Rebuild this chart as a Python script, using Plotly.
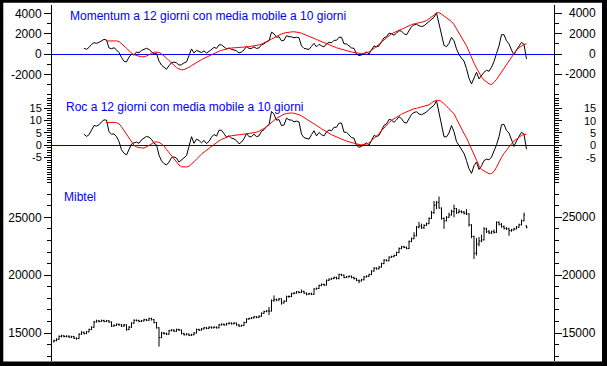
import plotly.graph_objects as go

# ---------------- data ----------------
periods = list(range(190))

opens = [14250, 14340, 14450, 14700, 14750, 14700, 14720, 14650, 14680, 14550,
         14520, 14900, 15050, 14950, 15100, 15300, 15500, 15950, 16050, 16000,
         16080, 16000, 16050, 15950, 15600, 15650, 15750, 15700, 15600, 15700,
         15300, 15500, 15850, 16100, 16080, 16000, 16050, 16150, 16100, 16250,
         16150, 15900, 15450, 14600, 15000, 14950, 14900, 15200, 15250, 15150,
         15300, 15250, 14950, 14850, 14900, 14800, 14850, 15000, 15300, 15250,
         15350, 15450, 15400, 15500, 15450, 15500, 15450, 15700, 15750, 15700,
         15800, 15850, 15800, 15850, 15700, 15600, 15650, 15900, 16200, 16250,
         16300, 16400, 16350, 16450, 16700, 16850, 16900, 16900, 17800, 17900,
         17850, 17950, 17600, 17750, 18150, 18150, 18400, 18450, 18550, 18500,
         18600, 18450, 18350, 18400, 18350, 18800, 18850, 19100, 19200, 19150,
         19550, 19650, 19700, 19800, 19700, 20050, 20000, 19800, 19850, 19900,
         19800, 19700, 19550, 19500, 19600, 19850, 19900, 20050, 20350, 20600,
         20550, 20700, 21000, 21300, 21250, 21550, 21600, 21700, 21950, 22300,
         22450, 22400, 22300, 22900, 23150, 23400, 24150, 24250, 24100, 24300,
         24450, 24900, 25400, 26050, 26300, 25800, 24900, 24700, 25000, 25200,
         25500, 25750, 25400, 25500, 25450, 25350, 25300, 24350, 23350, 21900,
         22700, 22950, 23050, 24000, 23750, 23650, 23750, 23700, 24550, 24400,
         24200, 24050, 24000, 23850, 23900, 24000, 24150, 24350, 24700, 24250]

highs = [14420, 14550, 14800, 14850, 14820, 14800, 14800, 14760, 14750, 14620,
         14980, 15150, 15120, 15180, 15380, 15580, 16050, 16150, 16120, 16160,
         16150, 16130, 16120, 16000, 15750, 15830, 15820, 15780, 15780, 15750,
         15600, 15930, 16180, 16170, 16150, 16130, 16230, 16220, 16330, 16320,
         16200, 15950, 15500, 15100, 15080, 15030, 15280, 15330, 15320, 15380,
         15370, 15300, 15020, 14980, 14960, 14930, 15080, 15380, 15370, 15430,
         15530, 15520, 15580, 15570, 15580, 15570, 15780, 15830, 15820, 15880,
         15930, 15920, 15930, 15900, 15770, 15730, 15980, 16280, 16330, 16380,
         16480, 16470, 16530, 16780, 16930, 16980, 17250, 17900, 18250, 17980,
         18030, 18000, 17830, 18230, 18250, 18480, 18530, 18630, 18620, 18750,
         18650, 18500, 18480, 18480, 18880, 18930, 19180, 19280, 19270, 19630,
         19730, 19780, 19880, 19870, 20130, 20120, 20050, 19930, 19980, 19970,
         19870, 19770, 19620, 19680, 19930, 19980, 20130, 20430, 20680, 20670,
         20780, 21080, 21380, 21370, 21630, 21680, 21780, 22030, 22400, 22530,
         22530, 22470, 23000, 23250, 23700, 24250, 24600, 24450, 24400, 24550,
         25000, 25550, 26400, 26400, 26800, 25850, 25000, 25100, 25400, 25650,
         26100, 25800, 25700, 25600, 25550, 25700, 25350, 24400, 23400, 23200,
         23300, 23500, 24150, 24100, 23900, 23850, 23950, 24650, 24650, 24500,
         24300, 24150, 24100, 24000, 24100, 24250, 24450, 24800, 25400, 24300]

lows = [14200, 14280, 14400, 14620, 14620, 14630, 14580, 14580, 14480, 14420,
        14480, 14850, 14880, 14900, 15050, 15250, 15450, 15900, 15920, 15950,
        15930, 15950, 15880, 15520, 15550, 15600, 15620, 15520, 15530, 15200,
        15250, 15450, 15800, 16000, 15930, 15950, 16000, 16030, 16050, 16080,
        15830, 15380, 13820, 14550, 14870, 14830, 14850, 15150, 15080, 15100,
        15180, 14880, 14780, 14800, 14730, 14750, 14800, 14950, 15180, 15200,
        15300, 15330, 15350, 15380, 15400, 15380, 15400, 15650, 15630, 15650,
        15750, 15730, 15750, 15630, 15530, 15550, 15600, 15850, 16150, 16200,
        16250, 16280, 16300, 16400, 16650, 16800, 16550, 16850, 17700, 17750,
        17800, 17450, 17550, 17700, 18050, 18100, 18350, 18400, 18430, 18450,
        18380, 18250, 18300, 18280, 18300, 18750, 18800, 19050, 19080, 19100,
        19500, 19600, 19650, 19630, 19650, 19930, 19730, 19750, 19800, 19730,
        19630, 19480, 19300, 19450, 19550, 19800, 19850, 20000, 20300, 20480,
        20500, 20650, 20950, 21180, 21200, 21500, 21550, 21650, 21900, 22250,
        22330, 22230, 22250, 22850, 23100, 23350, 24050, 24000, 24000, 24250,
        24400, 24850, 25300, 25700, 25750, 24800, 24000, 24650, 24950, 25150,
        25000, 25300, 25350, 25350, 25250, 25200, 24200, 23200, 21400, 21700,
        22500, 22850, 23000, 23650, 23550, 23550, 23600, 23650, 24300, 24100,
        23950, 23900, 23400, 23750, 23850, 23950, 24100, 24300, 24650, 24050]

closes = [14340, 14450, 14700, 14750, 14700, 14720, 14650, 14680, 14550, 14520,
          14900, 15050, 14950, 15100, 15300, 15500, 15950, 16050, 16000, 16080,
          16000, 16050, 15950, 15600, 15650, 15750, 15700, 15600, 15700, 15300,
          15500, 15850, 16100, 16080, 16000, 16050, 16150, 16100, 16250, 16150,
          15900, 15450, 14600, 15000, 14950, 14900, 15200, 15250, 15150, 15300,
          15250, 14950, 14850, 14900, 14800, 14850, 15000, 15300, 15250, 15350,
          15450, 15400, 15500, 15450, 15500, 15450, 15700, 15750, 15700, 15800,
          15850, 15800, 15850, 15700, 15600, 15650, 15900, 16200, 16250, 16300,
          16400, 16350, 16450, 16700, 16850, 16900, 16900, 17800, 17900, 17850,
          17950, 17600, 17750, 18150, 18150, 18400, 18450, 18550, 18500, 18600,
          18450, 18350, 18400, 18350, 18800, 18850, 19100, 19200, 19150, 19550,
          19650, 19700, 19800, 19700, 20050, 20000, 19800, 19850, 19900, 19800,
          19700, 19550, 19500, 19600, 19850, 19900, 20050, 20350, 20600, 20550,
          20700, 21000, 21300, 21250, 21550, 21600, 21700, 21950, 22300, 22450,
          22400, 22300, 22900, 23150, 23400, 24150, 24250, 24100, 24300, 24450,
          24900, 25400, 26050, 26300, 25800, 24900, 24700, 25000, 25200, 25500,
          25750, 25400, 25500, 25450, 25350, 25300, 24350, 23350, 21900, 22700,
          22950, 23050, 24000, 23750, 23650, 23750, 23700, 24550, 24400, 24200,
          24050, 24000, 23850, 23900, 24000, 24150, 24350, 24700, 25200, 24150]

# Momentum a 12 giorni (periods 12..189)
mom_periods = list(range(12, 190))
momentum = [560, 460, 650, 950, 1110, 1050, 1150, 1300, 1440, 1380,
            600, 520, 620, 400, 150, -350, -720, -780, -300, -20,
            -100, 200, 120, 350, 450, 560, 450, 250, 0, 60,
            -700, -1100, -1300, -1500, -1150, -850, -800, -870, -1100, -1050,
            -880, -780, -150, 500, 100, 350, 250, 150, 300, 100,
            250, 500, 650, 550, 900, 900, 700, 500, 600, 450,
            400, 300, 100, 200, 400, 750, 550, 550, 700, 550,
            600, 900, 1000, 1200, 1300, 2150, 2000, 1650, 1700, 1300,
            1350, 1800, 1700, 1700, 1600, 1650, 1600, 800, 550, 500,
            450, 750, 1050, 700, 950, 800, 700, 1000, 1150, 1100,
            1350, 1350, 1650, 1650, 1000, 1000, 800, 600, 550, 0,
            -150, -100, 50, 200, 0, 350, 800, 700, 800, 1200,
            1600, 1700, 2050, 2000, 1850, 2050, 2300, 2250, 2000, 1880,
            2350, 2700, 2870, 2940, 2780, 2700, 2780, 2980, 3180, 3380,
            3620, 4050, 3000, 1750, 850, 720, 1050, 1650, 1300, 500,
            -50, -400, -700, -1450, -2400, -2950, -2350, -1800, -2450, -2100,
            -1800, -1600, -1700, -1300, -750, 50, 800, 1900, 1900, 1300,
            1000, 400, -100, 400, 800, 1150, 950, -500]

# Media mobile a 10 giorni (periods 21..189)
ma_periods = list(range(21, 190))
momentum_ma = [1280, 1290, 1295, 1300, 1290, 1230, 1030, 820, 570, 330,
               80, -60, -160, -220, -270, -280, -200, -100, 60, 190,
               200, 160, 20, -150, -400, -650, -900, -1120, -1340, -1480,
               -1550, -1540, -1440, -1300, -1140, -980, -820, -690, -560, -430,
               -300, -180, -60, 60, 170, 270, 360, 440, 500, 550,
               590, 620, 640, 660, 680, 690, 700, 720, 750, 790,
               840, 900, 980, 1080, 1200, 1340, 1480, 1620, 1760, 1880,
               1980, 2060, 2120, 2160, 2180, 2190, 2170, 2120, 2050, 1960,
               1860, 1760, 1650, 1540, 1430, 1320, 1210, 1100, 1000, 900,
               800, 710, 620, 540, 460, 390, 320, 260, 200, 150,
               100, 60, 40, 50, 100, 200, 350, 530, 730, 950,
               1180, 1420, 1650, 1800, 1980, 2120, 2250, 2340, 2420, 2560,
               2700, 2820, 2900, 2960, 3010, 3060, 3110, 3190, 3300, 3450,
               3620, 3820, 4050, 4070, 3930, 3740, 3560, 3380, 3200, 2900,
               2450, 2050, 1630, 1220, 820, 200, -380, -900, -1390, -1850,
               -2260, -2560, -2780, -2940, -3000, -2800, -2500, -2140, -1820, -1450,
               -1050, -640, -250, 110, 390, 620, 800, 940, 1000]

# Roc a 12 giorni (periods 12..189)
roc = [4.5, 3.6, 4.3, 6.5, 8.0, 7.8, 8.3, 9.5, 10.3, 10.2,
       5.5, 4.5, 4.6, 3.5, 1.5, -1.8, -3.2, -3.9, -1.9, 0.5,
       1.0, 1.3, 0.8, 2.2, 2.9, 3.6, 3.3, 2.4, 0.8, 0.2,
       -4.0, -6.3, -7.4, -8.0, -6.8, -5.0, -4.7, -5.2, -6.8, -6.0,
       -5.0, -4.2, -0.5, 3.5, 0.8, 2.5, 2.0, 1.0, 2.0, 0.7,
       1.6, 3.3, 4.4, 3.7, 6.1, 6.1, 4.7, 3.3, 3.9, 2.9,
       2.6, 1.9, 0.6, 1.3, 2.6, 4.8, 3.5, 3.5, 4.5, 3.5,
       3.8, 5.7, 6.3, 7.6, 8.3, 13.7, 12.6, 10.2, 10.4, 8.0,
       8.2, 11.0, 10.3, 10.2, 9.5, 9.8, 9.5, 4.5, 3.1, 2.8,
       2.5, 4.3, 5.9, 3.8, 5.2, 4.3, 3.8, 5.4, 6.2, 5.9,
       7.3, 7.3, 9.0, 9.0, 5.3, 5.3, 4.2, 3.1, 2.9, 0.0,
       -0.8, -0.5, 0.3, 1.0, 0.0, 1.8, 4.0, 3.5, 4.0, 6.1,
       8.1, 8.7, 10.5, 10.2, 9.3, 10.3, 11.6, 10.8, 9.3, 9.0,
       11.0, 12.5, 13.3, 13.6, 12.7, 12.4, 12.9, 13.5, 14.6, 15.3,
       16.2, 18.1, 13.0, 7.5, 3.5, 3.4, 5.0, 8.0, 5.5, 1.5,
       -0.3, -1.8, -3.3, -6.2, -9.5, -11.4, -8.3, -6.8, -9.8, -8.3,
       -6.2, -5.6, -5.9, -4.8, -2.5, 0.2, 3.5, 8.3, 8.5, 6.0,
       5.0, 2.0, -0.5, 1.8, 3.4, 5.3, 4.5, -1.6]

roc_ma = [9.2, 9.3, 9.3, 9.3, 9.2, 8.7, 7.5, 6.0, 4.3, 2.6,
          1.0, 0.0, -0.7, -1.0, -1.1, -1.1, -0.7, -0.1, 0.6, 1.2,
          1.4, 1.2, 0.6, -0.3, -1.7, -3.0, -4.3, -5.5, -6.8, -8.0,
          -8.7, -8.9, -8.8, -8.5, -7.7, -6.7, -5.6, -4.5, -3.6, -2.8,
          -2.0, -1.2, -0.4, 0.4, 1.1, 1.8, 2.4, 2.9, 3.3, 3.6,
          3.9, 4.1, 4.2, 4.3, 4.4, 4.5, 4.6, 4.7, 4.9, 5.0,
          5.3, 5.7, 6.2, 6.8, 7.6, 8.5, 9.4, 10.2, 10.9, 11.5,
          12.1, 12.6, 12.9, 13.1, 13.1, 13.0, 12.8, 12.4, 11.9, 11.3,
          10.7, 10.1, 9.5, 8.8, 8.1, 7.4, 6.7, 6.0, 5.4, 4.9,
          4.3, 3.8, 3.4, 2.9, 2.5, 2.1, 1.7, 1.4, 1.0, 0.8,
          0.5, 0.3, 0.2, 0.3, 0.5, 1.0, 1.8, 2.7, 3.7, 4.8,
          6.0, 7.2, 8.4, 9.2, 10.1, 10.8, 11.4, 12.0, 12.6, 13.1,
          13.6, 14.1, 14.5, 14.8, 15.0, 15.3, 15.5, 15.7, 15.9, 16.4,
          17.2, 17.9, 18.2, 18.2, 17.8, 17.0, 15.9, 14.8, 13.8, 12.8,
          10.7, 8.5, 6.4, 4.8, 3.0, 0.9, -1.3, -3.6, -6.0, -8.4,
          -9.8, -10.4, -11.0, -11.5, -11.5, -10.6, -8.9, -6.8, -4.9, -3.3,
          -1.9, -0.5, 0.6, 1.7, 2.5, 3.3, 4.0, 4.4, 4.5]

mom_ticks = [-2000, 0, 2000, 4000]
mom_ticktext = ["-2000", "0", "2000", "4000"]
roc_ticks = [-5, 0, 5, 10, 15]
roc_ticktext = ["-5", "0", "5", "10", "15"]
price_ticks = [15000, 20000, 25000]
price_ticktext = ["15000", "20000", "25000"]

titles = ["Momentum a 12 giorni con media mobile a 10 giorni",
          "Roc a 12 giorni con media mobile a 10 giorni",
          "Mibtel"]

# ---------------- layout geometry ----------------
W, H = 607, 366
FONT = "Liberation Sans, Arial, sans-serif"


def fx(p):
    return p / W


def fy(p):
    return 1 - p / H


x_dom = [fx(52), fx(554)]
x_rng = [-0.8, 200]

mom_rng = [-4236, 4827]
roc_rng = [-14.07, 19.58]
price_rng = [12580, 28224]

dom1 = [fy(97), fy(5)]
dom2 = [fy(180), fy(97)]
dom3 = [fy(361), fy(180)]

fig = go.Figure()

# panel traces
fig.add_trace(go.Scatter(x=mom_periods, y=momentum, mode="lines",
                         line=dict(color="black", width=1), xaxis="x", yaxis="y"))
fig.add_trace(go.Scatter(x=ma_periods, y=momentum_ma, mode="lines",
                         line=dict(color="#ff0000", width=1), xaxis="x", yaxis="y"))
fig.add_trace(go.Scatter(x=mom_periods, y=roc, mode="lines",
                         line=dict(color="black", width=1), xaxis="x2", yaxis="y2"))
fig.add_trace(go.Scatter(x=ma_periods, y=roc_ma, mode="lines",
                         line=dict(color="#ff0000", width=1), xaxis="x2", yaxis="y2"))
fig.add_trace(go.Ohlc(x=periods, open=opens, high=highs, low=lows, close=closes,
                      increasing=dict(line=dict(color="black", width=1)),
                      decreasing=dict(line=dict(color="black", width=1)),
                      tickwidth=0.4, xaxis="x3", yaxis="y3"))


def yaxis_cfg(dom, rng, tv, tt, minor_dtick, zero, zcolor, anchor, fsize):
    return dict(domain=dom, range=rng, anchor=anchor, side="left",
                tickmode="array", tickvals=tv, ticktext=tt,
                showline=True, linecolor="#000000", linewidth=1,
                ticks="outside", ticklen=7, tickwidth=1, tickcolor="#000000",
                mirror="ticks", showgrid=False, layer="above traces",
                zeroline=zero, zerolinecolor=zcolor, zerolinewidth=1,
                tickfont=dict(family=FONT, size=fsize, color="black"),
                minor=dict(tickmode="linear", tick0=0, dtick=minor_dtick,
                           ticks="outside", ticklen=4, tickwidth=1,
                           tickcolor="#000000", showgrid=False))


xcommon = dict(domain=x_dom, range=x_rng, showticklabels=False, ticks="",
               showline=False, showgrid=False, zeroline=False)

fig.update_layout(
    width=W, height=H, margin=dict(l=0, r=0, t=0, b=0),
    paper_bgcolor="white", plot_bgcolor="rgba(0,0,0,0)", showlegend=False,
    xaxis=dict(xcommon, anchor="y"),
    xaxis2=dict(xcommon, anchor="y2"),
    xaxis3=dict(xcommon, anchor="y3", rangeslider=dict(visible=False)),
    yaxis=yaxis_cfg(dom1, mom_rng, mom_ticks, mom_ticktext, 1000, True, "#0000ff", "x", 12),
    yaxis2=yaxis_cfg(dom2, roc_rng, roc_ticks, roc_ticktext, 1, True, "#0000b4", "x2", 11),
    yaxis3=yaxis_cfg(dom3, price_rng, price_ticks, price_ticktext, 1000, False, "#0000ff", "x3", 12),
)

# right-hand tick labels, placed through each panel's own y scale
for yref, tv, tt, fsize in [("y", mom_ticks, mom_ticktext, 12),
                            ("y2", roc_ticks, roc_ticktext, 11),
                            ("y3", price_ticks, price_ticktext, 12)]:
    for v, t in zip(tv, tt):
        fig.add_annotation(text=t, x=fx(598), y=v, xref="paper", yref=yref,
                           xanchor="right", yanchor="middle", showarrow=False,
                           font=dict(family=FONT, size=fsize, color="black"))

for txt, (px, py) in zip(titles, [(68, 16.5), (64, 107), (62, 197)]):
    fig.add_annotation(text=txt, x=fx(px), y=fy(py), xref="paper", yref="paper",
                       xanchor="left", yanchor="middle", showarrow=False,
                       font=dict(family=FONT, size=12, color="#0000ff"))

# window frame with shadow
for x0, y0, x1, y1 in [(0, 0, 603, 2.7), (0, 0, 3.3, 362), (602, 0, W, H), (0, 361.5, W, H)]:
    fig.add_shape(type="rect", xref="paper", yref="paper",
                  x0=fx(x0), x1=fx(x1), y0=fy(y1), y1=fy(y0),
                  fillcolor="black", line=dict(width=0), layer="above")

fig.write_html("out.html", config={"displayModeBar": False},
               post_script="document.body.style.margin='0';")
